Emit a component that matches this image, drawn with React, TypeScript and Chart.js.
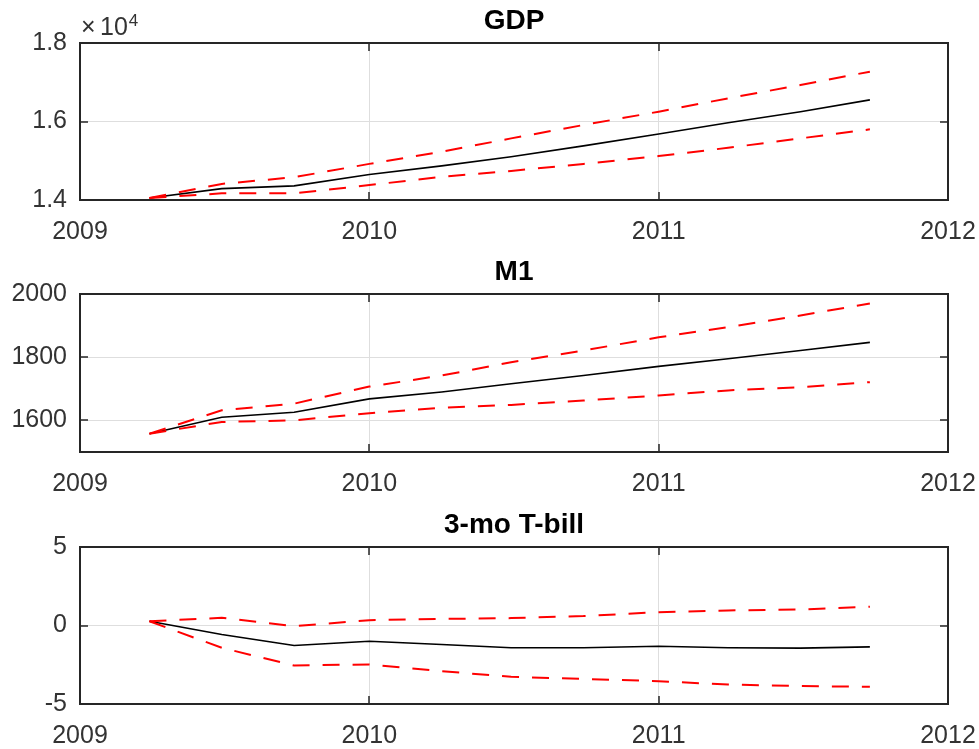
import React, { useEffect, useRef } from "react";
import { Chart, registerables } from "chart.js";

Chart.register(...registerables);

// ---- data ----
const quarters = [2009.24, 2009.49, 2009.74, 2010.0, 2010.25, 2010.49, 2010.74, 2011.0, 2011.24, 2011.49, 2011.73];

const gdpMean = [14050, 14290, 14360, 14650, 14870, 15100, 15380, 15680, 15970, 16250, 16550];
const gdpUpper = [14050, 14410, 14580, 14920, 15230, 15570, 15910, 16250, 16590, 16930, 17270];
const gdpLower = [14050, 14170, 14170, 14380, 14590, 14740, 14920, 15120, 15330, 15570, 15800];

const m1Mean = [1558, 1610, 1626, 1668, 1690, 1716, 1742, 1771, 1795, 1821, 1847];
const m1Upper = [1558, 1632, 1653, 1707, 1742, 1784, 1821, 1863, 1895, 1932, 1970];
const m1Lower = [1558, 1595, 1600, 1623, 1640, 1649, 1663, 1679, 1695, 1705, 1721];

const tbillMean = [0.27, -0.57, -1.27, -1.0, -1.21, -1.42, -1.42, -1.32, -1.42, -1.44, -1.36];
const tbillUpper = [0.27, 0.49, -0.04, 0.34, 0.42, 0.47, 0.6, 0.85, 0.96, 1.02, 1.19];
const tbillLower = [0.27, -1.42, -2.55, -2.48, -2.91, -3.27, -3.4, -3.55, -3.76, -3.86, -3.9];

const xTicks = [2009, 2010, 2011, 2012];
const gdpTicks = [14000, 16000, 18000];
const m1Ticks = [1600, 1800, 2000];
const tbillTicks = [-5, 0, 5];
const titles = ["GDP", "M1", "3-mo T-bill"];

// ---- style ----
const FONT = "'Liberation Sans', Arial, Helvetica, sans-serif";
const AXIS_COLOR = "#262626";
const LABEL_COLOR = "#333333";
const GRID_COLOR = "#dedede";
const W = 979;

type PanelSpec = {
  title: string;
  mean: number[];
  upper: number[];
  lower: number[];
  yMin: number;
  yMax: number;
  yTicks: number[];
  fmt: (v: number) => string;
  exponent?: string;
  top: number;
  height: number;
  padTop: number;
  padBottom: number;
};

const matlabAxes = {
  id: "matlabAxes",
  afterDraw(chart: any, _args: any, opts: any) {
    const { ctx, chartArea: a, scales } = chart;
    const tl = 8;
    ctx.save();
    ctx.strokeStyle = AXIS_COLOR;
    ctx.lineWidth = 1.5;
    ctx.beginPath();
    scales.x.ticks.forEach((t: any) => {
      const px = Math.round(scales.x.getPixelForValue(t.value));
      ctx.moveTo(px, a.bottom);
      ctx.lineTo(px, a.bottom - tl);
      ctx.moveTo(px, a.top);
      ctx.lineTo(px, a.top + tl);
    });
    scales.y.ticks.forEach((t: any) => {
      const py = Math.round(scales.y.getPixelForValue(t.value));
      ctx.moveTo(a.left, py);
      ctx.lineTo(a.left + tl, py);
      ctx.moveTo(a.right, py);
      ctx.lineTo(a.right - tl, py);
    });
    ctx.stroke();
    ctx.lineWidth = 2;
    ctx.strokeRect(a.left, a.top, a.right - a.left, a.bottom - a.top);

    ctx.fillStyle = "#000";
    ctx.font = `bold 28px ${FONT}`;
    ctx.textAlign = "center";
    ctx.textBaseline = "alphabetic";
    ctx.fillText(opts.title, (a.left + a.right) / 2, a.top - 14);

    if (opts.exponent) {
      ctx.fillStyle = LABEL_COLOR;
      ctx.textAlign = "left";
      ctx.font = `25px ${FONT}`;
      ctx.fillText("\u00d7", a.left + 1, a.top - 8);
      ctx.fillText("10", a.left + 20, a.top - 8);
      const w = ctx.measureText("10").width;
      ctx.font = `17px ${FONT}`;
      ctx.fillText(opts.exponent, a.left + 21 + w, a.top - 17);
    }
    ctx.restore();
  },
};

function Panel({ spec }: { spec: PanelSpec }) {
  const ref = useRef<HTMLCanvasElement | null>(null);
  useEffect(() => {
    if (!ref.current) return;
    const pts = (arr: number[]) => arr.map((y, i) => ({ x: quarters[i], y }));
    const dashed = {
      borderColor: "#ff0000",
      borderWidth: 2,
      borderDash: [17, 13],
      pointRadius: 0,
      tension: 0,
      fill: false,
    };
    const chart = new Chart(ref.current, {
      type: "line",
      data: {
        datasets: [
          { label: "upper", data: pts(spec.upper), ...dashed },
          { label: "lower", data: pts(spec.lower), ...dashed },
          {
            label: "mean",
            data: pts(spec.mean),
            borderColor: "#000000",
            borderWidth: 1.6,
            pointRadius: 0,
            tension: 0,
            fill: false,
          },
        ],
      },
      options: {
        animation: false,
        responsive: false,
        devicePixelRatio: 1,
        layout: { padding: { left: 10, right: W - 948, top: spec.padTop, bottom: spec.padBottom } },
        plugins: {
          legend: { display: false },
          tooltip: { enabled: false },
          title: { display: false },
          matlabAxes: { title: spec.title, exponent: spec.exponent },
        } as any,
        scales: {
          x: {
            type: "linear",
            min: 2009,
            max: 2012,
            afterBuildTicks: (s: any) => {
              s.ticks = xTicks.map((v) => ({ value: v }));
            },
            afterFit: (s: any) => {
              s.height = 40;
              s.paddingLeft = 0;
              s.paddingRight = 0;
            },
            ticks: {
              callback: (v: any) => String(v),
              font: { family: FONT, size: 25 },
              color: LABEL_COLOR,
              padding: 17,
              maxRotation: 0,
              autoSkip: false,
            },
            grid: { color: GRID_COLOR, drawTicks: false, lineWidth: 1 },
            border: { display: false },
          },
          y: {
            type: "linear",
            min: spec.yMin,
            max: spec.yMax,
            afterBuildTicks: (s: any) => {
              s.ticks = spec.yTicks.map((v) => ({ value: v }));
            },
            afterFit: (s: any) => {
              s.width = 70;
              s.paddingTop = 0;
              s.paddingBottom = 0;
            },
            ticks: {
              callback: (v: any) => spec.fmt(Number(v)),
              font: { family: FONT, size: 25 },
              color: LABEL_COLOR,
              padding: 13,
            },
            grid: { color: GRID_COLOR, drawTicks: false, lineWidth: 1 },
            border: { display: false },
          },
        },
      } as any,
      plugins: [matlabAxes],
    });
    return () => chart.destroy();
  }, [spec]);
  return (
    <canvas
      ref={ref}
      width={W}
      height={spec.height}
      style={{ position: "absolute", left: 0, top: spec.top, width: W, height: spec.height }}
    />
  );
}

const specs: PanelSpec[] = [
  {
    title: titles[0],
    mean: gdpMean,
    upper: gdpUpper,
    lower: gdpLower,
    yMin: 14000,
    yMax: 18000,
    yTicks: gdpTicks,
    fmt: (v) => (v / 1e4).toFixed(1),
    exponent: "4",
    top: 0,
    height: 250,
    padTop: 43,
    padBottom: 10,
  },
  {
    title: titles[1],
    mean: m1Mean,
    upper: m1Upper,
    lower: m1Lower,
    yMin: 1500,
    yMax: 2000,
    yTicks: m1Ticks,
    fmt: (v) => String(v),
    top: 250,
    height: 250,
    padTop: 44,
    padBottom: 8,
  },
  {
    title: titles[2],
    mean: tbillMean,
    upper: tbillUpper,
    lower: tbillLower,
    yMin: -5,
    yMax: 5,
    yTicks: tbillTicks,
    fmt: (v) => String(v),
    top: 500,
    height: 249,
    padTop: 47,
    padBottom: 5,
  },
];

export default function App() {
  return (
    <div style={{ position: "absolute", left: 0, top: 0, width: W, height: 749, background: "#fff" }}>
      {specs.map((s, i) => (
        <Panel key={i} spec={s} />
      ))}
    </div>
  );
}
